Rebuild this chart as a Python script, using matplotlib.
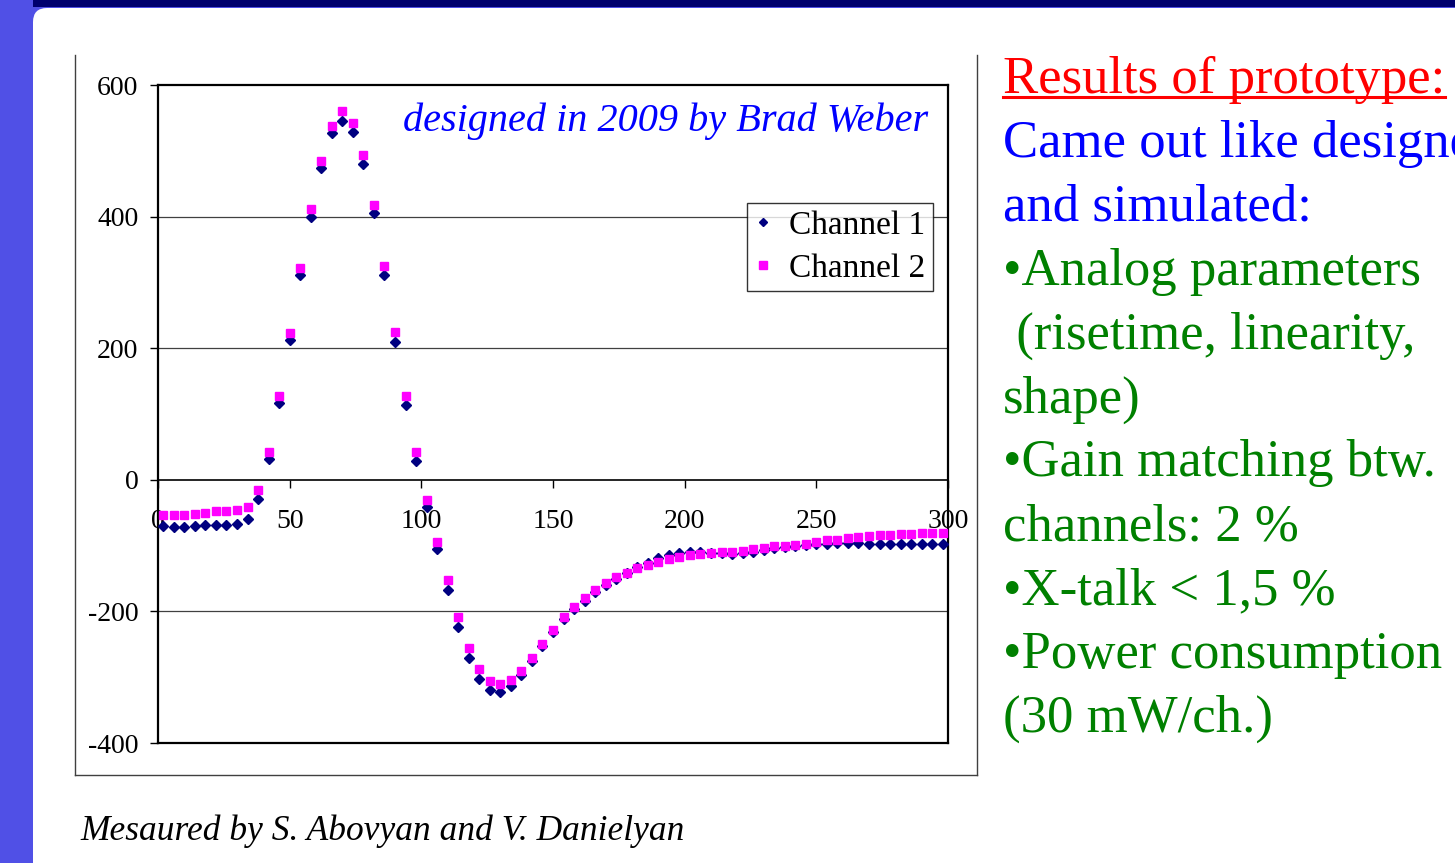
import numpy as np
import matplotlib
matplotlib.use("Agg")
import matplotlib.pyplot as plt
from matplotlib.lines import Line2D
from matplotlib.patches import Rectangle, FancyBboxPatch

W, H = 1455, 863
SERIF = "Liberation Serif"

# sample times (ns), every 4 starting at 2
time_ns = list(range(2, 300, 4))

ch1 = [-70, -71, -71, -70, -69, -68, -68, -67, -60, -29,
       32, 117, 213, 311, 400, 474, 527, 546, 529, 480,
       406, 311, 209, 113, 29, -41, -105, -167, -224, -271,
       -302, -319, -322, -314, -297, -276, -252, -232, -212, -196,
       -184, -171, -160, -150, -141, -133, -126, -119, -115, -111,
       -109, -110, -111, -112, -113, -111, -109, -106, -104, -102,
       -100, -99, -98, -97, -96, -96, -96, -97, -97, -97,
       -97, -97, -97, -97, -97]

ch2 = [-54, -53, -53, -52, -51, -48, -47, -46, -42, -15,
       42, 127, 223, 322, 411, 484, 538, 560, 543, 494,
       418, 325, 224, 128, 43, -30, -95, -153, -209, -256,
       -288, -306, -311, -304, -291, -271, -249, -229, -209, -193,
       -179, -167, -157, -148, -141, -134, -129, -125, -121, -118,
       -115, -113, -111, -110, -110, -108, -105, -103, -101, -100,
       -99, -97, -95, -92, -91, -89, -87, -85, -84, -84,
       -83, -82, -81, -81, -81]

x_ticks = [0, 50, 100, 150, 200, 250, 300]
y_ticks = [-400, -200, 0, 200, 400, 600]

side_lines = [
    ("Results of prototype:", "#FF0000"),
    ("Came out like designed", "#0000FF"),
    ("and simulated:", "#0000FF"),
    ("\u2022Analog parameters", "#008000"),
    (" (risetime, linearity,", "#008000"),
    ("shape)", "#008000"),
    ("\u2022Gain matching btw.", "#008000"),
    ("channels: 2 %", "#008000"),
    ("\u2022X-talk < 1,5 %", "#008000"),
    ("\u2022Power consumption", "#008000"),
    ("(30 mW/ch.)", "#008000"),
]


def fx(px):
    return px / W


def fy(py):
    return 1 - py / H


fig = plt.figure(figsize=(W / 100, H / 100), dpi=100)
fig.patch.set_facecolor("#5050E6")

# slide background: navy top bar and white rounded panel
fig.add_artist(Rectangle((fx(33), fy(7)), 1, 1, transform=fig.transFigure,
                         facecolor="#00006E", edgecolor="none", zorder=0))
fig.add_artist(FancyBboxPatch((33, -60), 1600, H - 8 + 60,
                              boxstyle="round,pad=0,rounding_size=14",
                              transform=None, facecolor="white",
                              edgecolor="none", zorder=0))

# excel chart area border (no top edge visible)
border = dict(color="#404040", lw=1.0, transform=fig.transFigure, zorder=1)
fig.add_artist(Line2D([fx(75), fx(75)], [fy(55), fy(775)], **border))
fig.add_artist(Line2D([fx(75), fx(977)], [fy(775), fy(775)], **border))
fig.add_artist(Line2D([fx(977), fx(977)], [fy(55), fy(775)], **border))

ax = fig.add_axes([fx(158), fy(743), (948 - 158) / W, (743 - 85) / H])
ax.set_facecolor("white")
ax.set_xlim(0, 300)
ax.set_ylim(-400, 600)

for yv in [400, 200, -200]:
    ax.axhline(yv, color="#404040", lw=0.9, zorder=1)
ax.axhline(-400, color="black", lw=1.6, zorder=3, clip_on=False)

for side in ["left", "right", "top"]:
    ax.spines[side].set_linewidth(1.6)
    ax.spines[side].set_color("black")
ax.spines["bottom"].set_position(("data", 0))
ax.spines["bottom"].set_linewidth(1.2)

ax.set_xticks(x_ticks)
ax.set_yticks(y_ticks)
ax.set_xticklabels([str(v) for v in x_ticks], fontfamily=SERIF, fontsize=20)
ax.set_yticklabels([str(v) for v in y_ticks], fontfamily=SERIF, fontsize=20)
ax.tick_params(axis="x", direction="out", length=6, width=1, pad=15)
ax.tick_params(axis="y", direction="out", length=6, width=1, pad=8)

ax.plot(time_ns, ch1, linestyle="none", marker="D", markersize=4.6,
        color="#000080", label="Channel 1", zorder=4, clip_on=False)
ax.plot(time_ns, ch2, linestyle="none", marker="s", markersize=5.6,
        color="#FF00FF", label="Channel 2", zorder=5, clip_on=False)

leg = ax.legend(loc="upper left", bbox_to_anchor=((747 - 158) / 790, (743 - 203) / 658),
                prop={"family": SERIF, "size": 24}, frameon=True, fancybox=False,
                borderpad=0.22, handlelength=0.5, handletextpad=0.55,
                labelspacing=0.38, borderaxespad=0, markerscale=0.95)
leg.get_frame().set_edgecolor("black")
leg.get_frame().set_linewidth(1.0)

fig.text(fx(928), fy(131), "designed in 2009 by Brad Weber", ha="right", va="baseline",
         fontfamily=SERIF, fontstyle="italic", fontsize=29, color="#0000FF")

fig.text(fx(80), fy(840), "Mesaured by S. Abovyan and V. Danielyan",
         ha="left", va="baseline", fontfamily=SERIF, fontstyle="italic",
         fontsize=25.5, color="black")

texts = []
for i, (line, col) in enumerate(side_lines):
    t = fig.text(fx(1003), fy(93 + i * 63.9), line, ha="left", va="baseline",
                 fontfamily=SERIF, fontsize=38, color=col)
    texts.append(t)

# underline the heading
fig.canvas.draw()
bb = texts[0].get_window_extent()
fig.add_artist(Line2D([bb.x0 / W, bb.x1 / W], [fy(97), fy(97)], color="#FF0000",
                      lw=2.2, transform=fig.transFigure))

fig.savefig("out.png", dpi=100)
